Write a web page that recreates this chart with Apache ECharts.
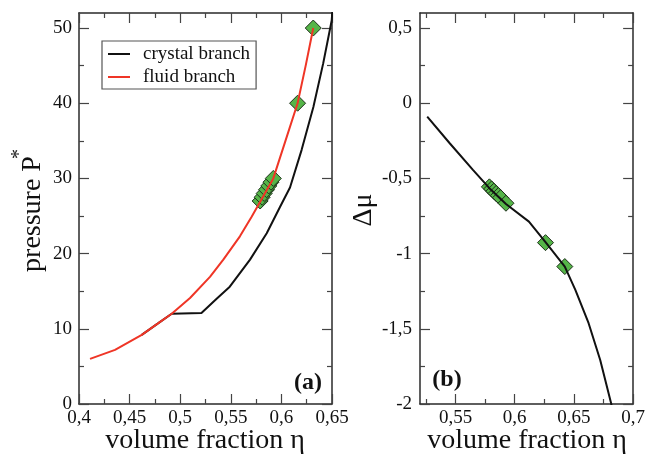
<!DOCTYPE html>
<html>
<head>
<meta charset="utf-8">
<script src="https://cdn.jsdelivr.net/npm/echarts@6/dist/echarts.min.js"></script>
<style>
  html, body { margin: 0; padding: 0; background: #fff; }
  #chart { width: 648px; height: 456px; }
</style>
</head>
<body>
<div id="chart"></div>
<script>
// panel (a): pressure vs volume fraction
var etaFluid = [0.4109, 0.4356, 0.462, 0.4784, 0.4916, 0.5097, 0.5294, 0.5426, 0.559, 0.5706, 0.579, 0.592, 0.604, 0.616, 0.624, 0.6315];
var pFluid = [6.0, 7.2, 9.2, 10.75, 12.0, 14.1, 16.9, 19.2, 22.3, 24.9, 26.9, 30.0, 35.0, 40.0, 45.0, 50.0];
var etaCrystal = [0.462, 0.4784, 0.4916, 0.521, 0.536, 0.549, 0.569, 0.5855, 0.5986, 0.6085, 0.620, 0.6316, 0.6413, 0.6497, 0.6505];
var pCrystal = [9.2, 10.75, 12.0, 12.1, 14.0, 15.6, 19.2, 22.7, 26.2, 28.8, 33.8, 39.5, 45.3, 51.0, 52.5];
var etaMarkA = [0.579, 0.581, 0.583, 0.5853, 0.5875, 0.5897, 0.592, 0.616, 0.6315];
var pMarkA = [27.0, 27.5, 28.0, 28.5, 29.0, 29.5, 30.0, 40.0, 50.0];

// panel (b): chemical potential difference
var etaMu = [0.5261, 0.5451, 0.5647, 0.5786, 0.5926, 0.612, 0.626, 0.6423, 0.6512, 0.6624, 0.6722, 0.6814, 0.6818];
var dMu = [-0.089, -0.266, -0.443, -0.565, -0.670, -0.787, -0.924, -1.086, -1.241, -1.463, -1.707, -1.995, -2.01];
var etaMarkB = [0.5786, 0.5805, 0.5824, 0.5843, 0.5862, 0.5881, 0.5926, 0.626, 0.6423];
var muMarkB = [-0.556, -0.570, -0.585, -0.600, -0.614, -0.628, -0.665, -0.927, -1.086];

// tick labels
var xTicksA = [0.4, 0.45, 0.5, 0.55, 0.6, 0.65];
var xMinorA = [0.425, 0.475, 0.525, 0.575, 0.625];
var yTicksA = [0, 10, 20, 30, 40, 50];
var yMinorA = [5, 15, 25, 35, 45];
var xTicksB = [0.55, 0.6, 0.65, 0.7];
var xMinorB = [0.525, 0.575, 0.625, 0.675];
var yTicksB = [-2, -1.5, -1, -0.5, 0, 0.5];
var yMinorB = [-1.75, -1.25, -0.75, -0.25, 0.25];

var FONT = 'Liberation Serif';
var lineCol = '#2a2a2a';

function zip(a, b) {
    var out = [];
    for (var i = 0; i < a.length; i++) out.push([a[i], b[i]]);
    return out;
}

function comma(v) {
    return String(v).replace('.', ',');
}

// four axes per side pair: labelled main, minor overlay, mirrored main, mirrored minor
function frame(gi, pos, min, max, major, minor, margin) {
    var opp = { bottom: 'top', left: 'right' }[pos];
    function ax(p, ticks, len, showLine, showLabel) {
        return {
            type: 'value', gridIndex: gi, position: p, min: min, max: max,
            splitLine: { show: false },
            axisLine: { show: showLine, onZero: false, lineStyle: { color: lineCol, width: 1.5 } },
            axisTick: { show: true, inside: true, length: len, customValues: ticks, lineStyle: { color: '#444', width: 1.2 } },
            axisLabel: {
                show: showLabel, customValues: ticks, margin: margin,
                formatter: comma, color: '#111', fontFamily: FONT, fontSize: 19
            }
        };
    }
    return [
        ax(pos, major, 10, true, true),
        ax(pos, minor, 5, false, false),
        ax(opp, major, 10, true, false),
        ax(opp, minor, 5, false, false)
    ];
}

var myChart = echarts.init(document.getElementById('chart'), null, { renderer: 'canvas' });

var green = '#55b548';

var option = {
    animation: false,
    grid: [
        { left: 79, top: 13, width: 253, height: 391 },
        { left: 420, top: 13, width: 215, height: 391 }
    ],
    xAxis: frame(0, 'bottom', 0.4, 0.65, xTicksA, xMinorA, 5)
        .concat(frame(1, 'bottom', 0.52, 0.7, xTicksB, xMinorB, 5)),
    yAxis: frame(0, 'left', 0, 52, yTicksA, yMinorA, 7)
        .concat(frame(1, 'left', -2, 0.6, yTicksB, yMinorB, 8)),
    legend: {
        left: 102, top: 41, orient: 'vertical',
        data: ['crystal branch', 'fluid branch'],
        icon: 'rect',
        itemWidth: 22, itemHeight: 2, itemGap: 3,
        padding: [3, 6, 2, 6],
        borderColor: '#555', borderWidth: 1.2,
        textStyle: { fontFamily: FONT, fontSize: 19, color: '#111', lineHeight: 20, padding: [0, 0, 0, 8] }
    },
    series: [{
        name: 'crystal branch', type: 'line', xAxisIndex: 0, yAxisIndex: 0,
        data: zip(etaCrystal, pCrystal), symbol: 'none',
        itemStyle: { color: '#111' },
        lineStyle: { color: '#111', width: 2 }
    }, {
        name: 'fluid branch', type: 'line', xAxisIndex: 0, yAxisIndex: 0,
        data: zip(etaFluid, pFluid), symbol: 'none',
        itemStyle: { color: '#ef3526' },
        lineStyle: { color: '#ef3526', width: 2 }
    }, {
        type: 'scatter', xAxisIndex: 0, yAxisIndex: 0,
        data: zip(etaMarkA, pMarkA), symbol: 'diamond', symbolSize: 16,
        itemStyle: { color: green, borderColor: '#1d2e1a', borderWidth: 1, opacity: 1 }
    }, {
        type: 'line', xAxisIndex: 4, yAxisIndex: 4,
        data: zip(etaMu, dMu), symbol: 'none',
        lineStyle: { color: '#111', width: 2 }
    }, {
        type: 'scatter', xAxisIndex: 4, yAxisIndex: 4,
        data: zip(etaMarkB, muMarkB), symbol: 'diamond', symbolSize: 16,
        itemStyle: { color: green, borderColor: '#1d2e1a', borderWidth: 1, opacity: 1 }
    }],
    graphic: [
        { type: 'text', x: 205, y: 441, style: { text: 'volume fraction η', font: '28px "Liberation Serif"', fill: '#111', align: 'center', verticalAlign: 'middle' } },
        { type: 'text', x: 527, y: 441, style: { text: 'volume fraction η', font: '28px "Liberation Serif"', fill: '#111', align: 'center', verticalAlign: 'middle' } },
        { type: 'text', x: 33, y: 214, rotation: Math.PI / 2, style: { text: 'pressure P', font: '28px "Liberation Serif"', fill: '#111', align: 'center', verticalAlign: 'middle' } },
        { type: 'text', x: 20, y: 154, rotation: Math.PI / 2, style: { text: '*', font: '20px "Liberation Serif"', fill: '#111', align: 'center', verticalAlign: 'middle' } },
        { type: 'text', x: 364, y: 210, rotation: Math.PI / 2, style: { text: 'Δμ', font: '28px "Liberation Serif"', fill: '#111', align: 'center', verticalAlign: 'middle' } },
        { type: 'text', x: 308, y: 383, style: { text: '(a)', font: 'bold 24px "Liberation Serif"', fill: '#111', align: 'center', verticalAlign: 'middle' } },
        { type: 'text', x: 447, y: 380, style: { text: '(b)', font: 'bold 24px "Liberation Serif"', fill: '#111', align: 'center', verticalAlign: 'middle' } }
    ]
};

myChart.setOption(option);
</script>
</body>
</html>
